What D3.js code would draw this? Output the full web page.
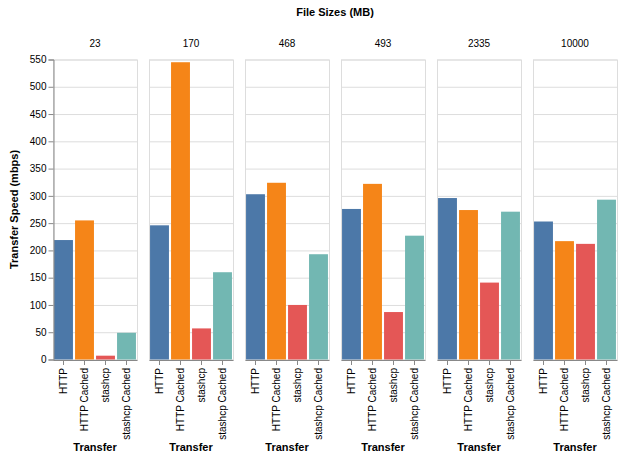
<!DOCTYPE html>
<html>
<head>
<meta charset="utf-8">
<script src="https://cdn.jsdelivr.net/npm/d3@7"></script>
<style>
  body { margin: 0; background: #fff; }
  text { font-family: "Liberation Sans", Arial, sans-serif; }
</style>
</head>
<body>
<svg id="chart" width="623" height="462"></svg>
<script>
// data
const fileSizes = ["23", "170", "468", "493", "2335", "10000"];
const transfers = ["HTTP", "HTTP Cached", "stashcp", "stashcp Cached"];
const httpSpeed        = [219, 246, 303, 276, 296, 253];
const httpCachedSpeed  = [255, 545, 324, 322, 274, 217];
const stashcpSpeed     = [7, 57, 100, 87, 141, 212];
const stashcpCachedSpeed = [49, 160, 193, 227, 271, 293];
const yTicks = [0, 50, 100, 150, 200, 250, 300, 350, 400, 450, 500, 550];
const colors = ["#4c78a8", "#f58518", "#e45756", "#72b7b2"];

const series = [httpSpeed, httpCachedSpeed, stashcpSpeed, stashcpCachedSpeed];

const svg = d3.select("#chart");
const marginLeft = 53, marginTop = 59.5, panelW = 84, panelH = 300, gap = 12;

const y = d3.scaleLinear().domain([0, 550]).range([panelH, 0]);
const x = d3.scaleBand().domain(transfers).range([0, panelW])
  .paddingInner(0.1).paddingOuter(0.05);
const color = d3.scaleOrdinal().domain(transfers).range(colors);

// facet header title
svg.append("text")
  .attr("x", marginLeft + (fileSizes.length * (panelW + gap) - gap) / 2)
  .attr("y", 16)
  .attr("text-anchor", "middle")
  .attr("font-size", 11).attr("font-weight", "bold")
  .text("File Sizes (MB)");

// y title
svg.append("text")
  .attr("transform", `translate(18,${marginTop + panelH / 2}) rotate(-90)`)
  .attr("text-anchor", "middle")
  .attr("font-size", 11).attr("font-weight", "bold")
  .text("Transfer Speed (mbps)");

fileSizes.forEach((size, i) => {
  const g = svg.append("g")
    .attr("transform", `translate(${marginLeft + i * (panelW + gap)},${marginTop})`);

  // header label
  g.append("text")
    .attr("x", panelW / 2).attr("y", -13)
    .attr("text-anchor", "middle")
    .attr("font-size", 10)
    .text(size);

  // grid
  g.append("g").selectAll("line").data(yTicks).join("line")
    .attr("x1", 0).attr("x2", panelW)
    .attr("y1", d => y(d) + 0.5).attr("y2", d => y(d) + 0.5)
    .attr("stroke", "#ddd");

  // panel border
  g.append("rect")
    .attr("x", 0.5).attr("y", 0.5)
    .attr("width", panelW).attr("height", panelH)
    .attr("fill", "none").attr("stroke", "#ddd");

  // bars
  const rows = transfers.map((t, j) => ({ t, v: series[j][i] }));
  g.append("g").selectAll("rect").data(rows).join("rect")
    .attr("x", d => x(d.t))
    .attr("width", x.bandwidth())
    .attr("y", d => y(d.v))
    .attr("height", d => panelH - y(d.v))
    .attr("fill", d => color(d.t));

  // x axis
  const xa = g.append("g")
    .attr("transform", `translate(0,${panelH + 0.5})`)
    .call(d3.axisBottom(x).tickSize(5).tickSizeOuter(0).tickPadding(2));
  xa.attr("font-family", null);
  xa.select(".domain").attr("stroke", "#888");
  xa.selectAll(".tick line").attr("stroke", "#888");
  xa.selectAll(".tick text")
    .attr("font-size", 10).attr("fill", "#000")
    .attr("transform", "rotate(-90)")
    .attr("text-anchor", "end")
    .attr("dy", "0.32em")
    .attr("x", -8).attr("y", 0);

  g.append("text")
    .attr("x", panelW / 2).attr("y", 391)
    .attr("text-anchor", "middle")
    .attr("font-size", 11).attr("font-weight", "bold")
    .text("Transfer");

  if (i === 0) {
    const ya = g.append("g")
      .attr("transform", "translate(0.5,0)")
      .call(d3.axisLeft(y).tickValues(yTicks).tickSize(5).tickPadding(2));
    ya.attr("font-family", null);
    ya.select(".domain").attr("stroke", "#888");
    ya.selectAll(".tick line").attr("stroke", "#888");
    ya.selectAll(".tick text").attr("font-size", 10).attr("fill", "#000");
  }
});
</script>
</body>
</html>
